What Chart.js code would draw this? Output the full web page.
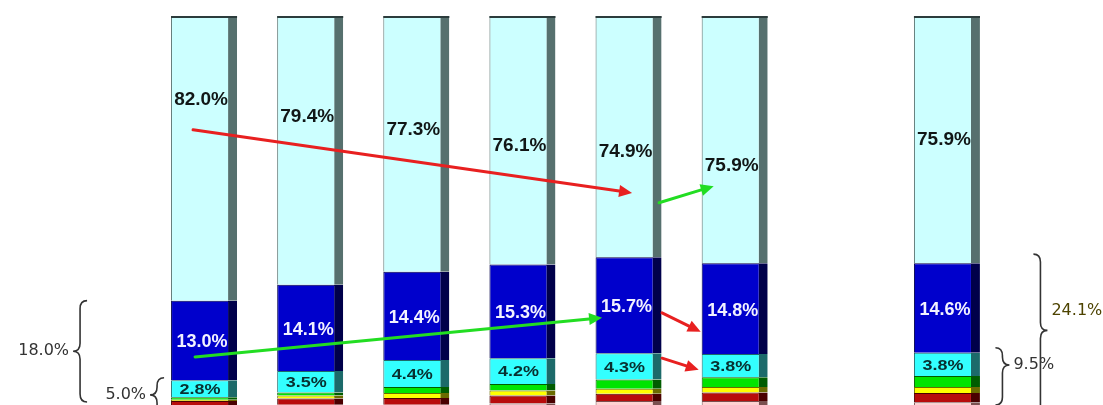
<!DOCTYPE html>
<html><head><meta charset="utf-8">
<script src="https://cdn.jsdelivr.net/npm/chart.js@4.4.1/dist/chart.umd.min.js"></script>
<style>html,body{margin:0;padding:0;background:#fff;}#wrap{width:1103px;height:405px;position:relative;}</style>
</head><body><div id="wrap"><canvas id="c"></canvas></div>
<script>
// ---- data (shares in %, stacked to 100 per bar; index 6 is an empty gap) ----
const categories = ['1', '2', '3', '4', '5', '6', '', '7'];
const lightCyanShare = [82.0, 79.4, 77.3, 76.1, 74.9, 75.9, null, 75.9];
const blueShare      = [13.0, 14.1, 14.4, 15.3, 15.7, 14.8, null, 14.6];
const cyanShare      = [2.8, 3.5, 4.4, 4.2, 4.3, 3.8, null, 3.8];
const greenShare     = [0.4, 0.5, 1.0, 1.1, 1.5, 1.6, null, 1.8];
const yellowShare    = [0.2, 0.5, 0.8, 0.8, 0.8, 0.9, null, 1.0];
const redShare       = [0.8, 1.0, 1.1, 1.3, 1.2, 1.4, null, 1.5];
const otherShare     = [0.8, 1.0, 1.0, 1.2, 1.6, 1.6, null, 1.4];
// bracket totals shown as annotations
const bracketLeftOuter = '18.0%';
const bracketLeftInner = '5.0%';
const bracketRightOuter = '24.1%';
const bracketRightInner = '9.5%';

// ---- view (axis is broken: only the lower part of each 100% bar is visible) ----
const Y_MIN = 0.95, Y_MAX = 64.5;
const lightCyanLabelAt = [50.8, 48.0, 45.9, 43.3, 42.3, 40.0, null, 44.3];

const BW = {top: 1, left: 1, right: 9, bottom: 0};
function ds(label, data, bg, border) {
  return {label, data, backgroundColor: bg, borderColor: border, borderWidth: BW,
          borderSkipped: 'start', stack: 's', clip: 0};
}
const datasets = [
  ds('other', otherShare, '#ffd2d2', '#7a5050'),
  ds('red', redShare, '#b80c0c', '#4a0000'),
  ds('yellow', yellowShare, '#ffff00', '#6b6b00'),
  ds('green', greenShare, '#00e400', '#005c00'),
  ds('cyan', cyanShare, '#33ffff', '#1c6a6a'),
  ds('blue', blueShare, '#0000cc', '#00004a'),
  ds('lightcyan', lightCyanShare, '#ccffff', '#56706e')
];

const arrows = [
  {color: '#e82020', from: [0, -11, 45.9], to: [4, 3.5, 35.6]},
  {color: '#22dd22', from: [4, 30.5, 34.0], to: [5, -21, 36.7]},
  {color: '#22dd22', from: [0, -9, 8.8], to: [4, -26.5, 15.2]},
  {color: '#e82020', from: [4, 33.5, 16.0], to: [5, -34, 12.9]},
  {color: '#e82020', from: [4, 33.5, 8.6], to: [5, -36, 6.7]}
];
const braces = [
  {text: bracketLeftOuter, idx: 0, dx: -124, top: 18.0, bottom: 1.44, tipFrac: 0.5, dir: -1, color: '#333', textColor: '#333'},
  {text: bracketLeftInner, idx: 0, dx: -47, top: 5.4, bottom: -0.2, tipFrac: 0.5, dir: -1, color: '#333', textColor: '#333'},
  {text: bracketRightInner, idx: 7, dx: 55.5, top: 10.3, bottom: 0.95, tipFrac: 0.3, dir: 1, color: '#333', textColor: '#333'},
  {text: bracketRightOuter, idx: 7, dx: 93.5, top: 25.6, bottom: -1.5, tipFrac: 0.46, dir: 1, color: '#333', textColor: '#4d4300', textDy: -20}
];

function drawArrow(ctx, x1, y1, x2, y2, color) {
  const ang = Math.atan2(y2 - y1, x2 - x1), hl = 13, hw = 6;
  const bx = x2 - hl * Math.cos(ang), by = y2 - hl * Math.sin(ang);
  ctx.save();
  ctx.strokeStyle = color; ctx.fillStyle = color; ctx.lineWidth = 3; ctx.lineCap = 'round';
  ctx.beginPath(); ctx.moveTo(x1, y1); ctx.lineTo(bx, by); ctx.stroke();
  ctx.beginPath(); ctx.moveTo(x2, y2);
  ctx.lineTo(bx + hw * Math.sin(ang), by - hw * Math.cos(ang));
  ctx.lineTo(bx - hw * Math.sin(ang), by + hw * Math.cos(ang));
  ctx.closePath(); ctx.fill();
  ctx.restore();
}
function drawBrace(ctx, x, y1, y2, ym, dir, color) {
  const w = 7, r = 8;
  ctx.save(); ctx.strokeStyle = color; ctx.lineWidth = 1.6;
  ctx.beginPath();
  ctx.moveTo(x - dir * w, y1);
  ctx.quadraticCurveTo(x, y1, x, y1 + r);
  ctx.lineTo(x, ym - r);
  ctx.quadraticCurveTo(x, ym, x + dir * w, ym);
  ctx.quadraticCurveTo(x, ym, x, ym + r);
  ctx.lineTo(x, y2 - r);
  ctx.quadraticCurveTo(x, y2, x - dir * w, y2);
  ctx.stroke(); ctx.restore();
}

const overlay = {
  id: 'overlay',
  afterDatasetsDraw(chart) {
    const ctx = chart.ctx, ys = chart.scales.y, area = chart.chartArea;
    const metaOf = name => chart.getDatasetMeta(chart.data.datasets.findIndex(d => d.label === name));
    const lc = metaOf('lightcyan'), bl = metaOf('blue'), cy = metaOf('cyan');
    ctx.save();
    lc.data.forEach((el, i) => {
      if (lightCyanShare[i] == null) return;
      const p = el.getProps(['x', 'width'], true);
      ctx.fillStyle = '#2c3c3c';
      ctx.fillRect(p.x - p.width / 2, area.top, p.width, 2);
    });
    ctx.textAlign = 'center'; ctx.textBaseline = 'middle';
    lc.data.forEach((el, i) => {
      if (lightCyanShare[i] == null) return;
      const p = el.getProps(['x'], true);
      ctx.font = 'bold 19px "Liberation Sans", Arial, sans-serif';
      ctx.fillStyle = '#111616';
      ctx.fillText(lightCyanShare[i].toFixed(1) + '%', p.x - 3, ys.getPixelForValue(lightCyanLabelAt[i]));
    });
    bl.data.forEach((el, i) => {
      if (blueShare[i] == null) return;
      const p = el.getProps(['x', 'y', 'base'], true);
      ctx.font = 'bold 18px "Liberation Sans", Arial, sans-serif';
      ctx.fillStyle = '#f2f2ff';
      ctx.fillText(blueShare[i].toFixed(1) + '%', p.x - 2, (p.y + p.base) / 2 + 2);
    });
    cy.data.forEach((el, i) => {
      if (cyanShare[i] == null) return;
      const p = el.getProps(['x', 'y', 'base'], true);
      ctx.save();
      ctx.translate(p.x - 4, (p.y + p.base) / 2 + 1);
      ctx.scale(1, 0.85);
      ctx.font = 'bold 18px "Liberation Sans", Arial, sans-serif';
      ctx.fillStyle = '#083030';
      ctx.fillText(cyanShare[i].toFixed(1) + '%', 0, 0);
      ctx.restore();
    });
    ctx.restore();
  },
  afterDraw(chart) {
    const ctx = chart.ctx, xs = chart.scales.x, ys = chart.scales.y;
    arrows.forEach(a => {
      drawArrow(ctx,
        xs.getPixelForValue(a.from[0]) + a.from[1], ys.getPixelForValue(a.from[2]),
        xs.getPixelForValue(a.to[0]) + a.to[1], ys.getPixelForValue(a.to[2]), a.color);
    });
    braces.forEach(b => {
      const x = xs.getPixelForValue(b.idx) + b.dx;
      const y1 = ys.getPixelForValue(b.top), y2 = ys.getPixelForValue(b.bottom);
      const ym = y1 + (y2 - y1) * b.tipFrac;
      drawBrace(ctx, x, y1, y2, ym, b.dir, b.color);
      ctx.save();
      ctx.font = '16px "DejaVu Sans", Verdana, sans-serif';
      ctx.fillStyle = b.textColor; ctx.textBaseline = 'middle';
      ctx.textAlign = b.dir < 0 ? 'right' : 'left';
      ctx.fillText(b.text, x + b.dir * 11, ym + (b.textDy || 0));
      ctx.restore();
    });
  }
};

new Chart(document.getElementById('c'), {
  type: 'bar',
  data: {labels: categories, datasets},
  options: {
    responsive: true, maintainAspectRatio: false, animation: false,
    layout: {padding: {left: 151, right: 103, top: 16, bottom: 0}},
    plugins: {legend: {display: false}, tooltip: {enabled: false}},
    datasets: {bar: {categoryPercentage: 1.0, barPercentage: 0.622}},
    scales: {
      x: {display: false, stacked: true},
      y: {display: false, stacked: true, min: Y_MIN, max: Y_MAX}
    }
  },
  plugins: [overlay]
});
</script>
</body></html>
